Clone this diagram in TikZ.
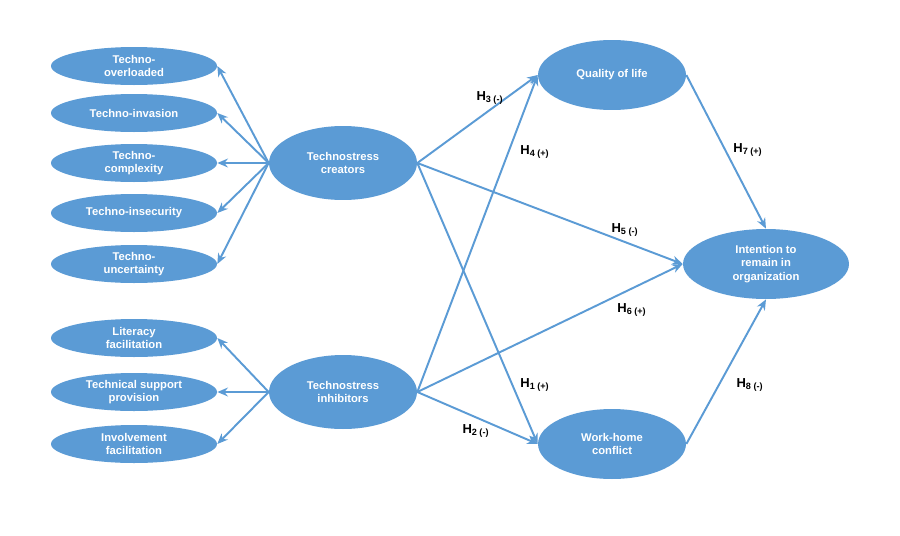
\documentclass[tikz,border=0pt]{standalone}
\usepackage{fontspec}
\setmainfont{Liberation Sans}
\usetikzlibrary{shapes.geometric,arrows.meta}
\definecolor{blueA}{HTML}{5B9BD5}
\begin{document}
\begin{tikzpicture}[
  x=0.02cm, y=-0.02cm,
  every node/.style={align=center, font=\fontsize{6.4}{7.6}\selectfont\bfseries},
  dim/.style={ellipse, fill=blueA, text=white, inner sep=0pt, minimum width=3.32cm, minimum height=0.76cm},
  core/.style={ellipse, fill=blueA, text=white, inner sep=0pt, minimum width=2.96cm, minimum height=1.48cm},
  link/.style={draw=blueA, line width=1.1pt, -{Stealth[length=6pt,width=5pt]}},
  hyp/.style={font=\fontsize{7.4}{8}\selectfont\bfseries}
]
\useasboundingbox[fill=white] (0,0) rectangle (900,535);

% Creator dimensions
\node[dim] (overload) at (134,66) {Techno-\\overloaded};
\node[dim] (invasion) at (134,113) {Techno-invasion};
\node[dim] (complex) at (134,163) {Techno-\\complexity};
\node[dim] (insecure) at (134,213) {Techno-insecurity};
\node[dim] (uncertain) at (134,264) {Techno-\\uncertainty};

% Inhibitor dimensions
\node[dim] (literacy) at (134,338) {Literacy\\facilitation};
\node[dim] (support) at (134,392) {Technical support\\provision};
\node[dim] (involve) at (134,444) {Involvement\\facilitation};

% Main constructs
\node[core] (creators) at (343,163) {Technostress\\creators};
\node[core] (inhibitors) at (343,392) {Technostress\\inhibitors};
\node[core, minimum height=1.4cm] (quality) at (612,75) {Quality of life};
\node[core, minimum height=1.4cm] (conflict) at (612,444) {Work-home\\conflict};
\node[core, minimum width=3.32cm, minimum height=1.4cm] (remain) at (766,264) {Intention to\\remain in\\organization};

% Dimension arrows
\foreach \d in {overload,invasion,complex,insecure,uncertain}
  \draw[link] (creators.west) -- (\d.east);
\foreach \d in {literacy,support,involve}
  \draw[link] (inhibitors.west) -- (\d.east);

% Hypotheses
\draw[link] (creators.east) -- (quality.west);
\draw[link] (creators.east) -- (remain.west);
\draw[link] (creators.east) -- (conflict.west);
\draw[link] (inhibitors.east) -- (quality.west);
\draw[link] (inhibitors.east) -- (remain.west);
\draw[link] (inhibitors.east) -- (conflict.west);
\draw[link] (quality.east) -- (remain.north);
\draw[link] (conflict.east) -- (remain.south);

\node[hyp] (h3) at (490,98) {H\textsubscript{3 (-)}};
\node[hyp] (h4) at (535,152) {H\textsubscript{4 (+)}};
\node[hyp] (h5) at (625,230) {H\textsubscript{5 (-)}};
\node[hyp] (h6) at (632,310) {H\textsubscript{6 (+)}};
\node[hyp] (h1) at (535,385) {H\textsubscript{1 (+)}};
\node[hyp] (h2) at (476,431) {H\textsubscript{2 (-)}};
\node[hyp] (h7) at (748,150) {H\textsubscript{7 (+)}};
\node[hyp] (h8) at (750,385) {H\textsubscript{8 (-)}};
\end{tikzpicture}
\end{document}
